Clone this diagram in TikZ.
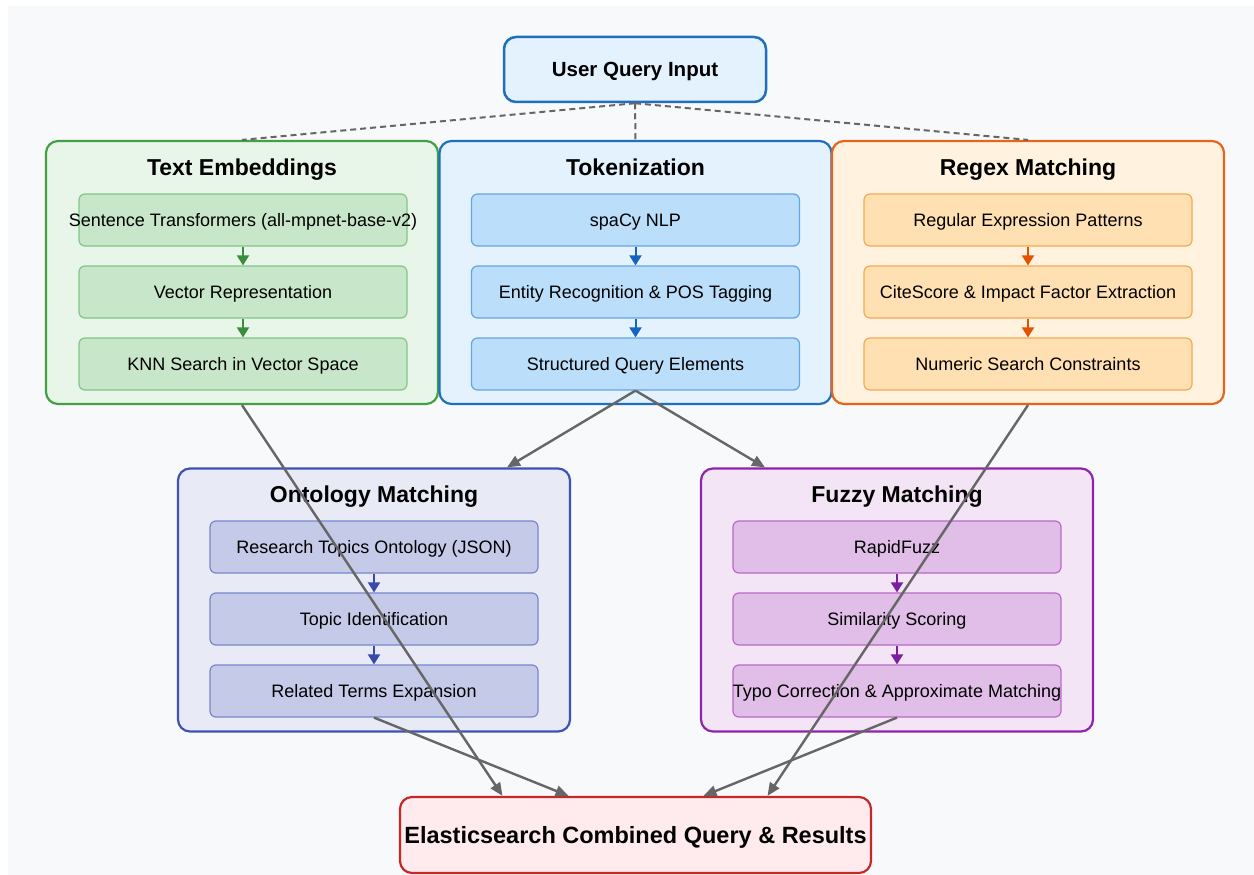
\documentclass[tikz,border=0pt]{standalone}
\usepackage{fontspec}
\setmainfont{Liberation Sans}
\usetikzlibrary{arrows.meta,calc}
\definecolor{bg}{HTML}{F8F9FA}
\definecolor{teB}{HTML}{43A047}\definecolor{teF}{HTML}{E8F5E9}\definecolor{teIF}{HTML}{C8E6C9}\definecolor{teIB}{HTML}{81C784}\definecolor{teA}{HTML}{388E3C}
\definecolor{tkB}{HTML}{1E6FC0}\definecolor{tkF}{HTML}{E3F2FD}\definecolor{tkIF}{HTML}{BBDEFB}\definecolor{tkIB}{HTML}{64A5E6}\definecolor{tkA}{HTML}{1565C0}
\definecolor{rxB}{HTML}{E8641B}\definecolor{rxF}{HTML}{FFF3E0}\definecolor{rxIF}{HTML}{FFE0B2}\definecolor{rxIB}{HTML}{F5A850}\definecolor{rxA}{HTML}{E65100}
\definecolor{onB}{HTML}{3F51B5}\definecolor{onF}{HTML}{E8EAF6}\definecolor{onIF}{HTML}{C5CAE9}\definecolor{onIB}{HTML}{7986CB}\definecolor{onA}{HTML}{3949AB}
\definecolor{fzB}{HTML}{8E24AA}\definecolor{fzF}{HTML}{F3E5F5}\definecolor{fzIF}{HTML}{E1BEE7}\definecolor{fzIB}{HTML}{BA68C8}\definecolor{fzA}{HTML}{7B1FA2}
\definecolor{esB}{HTML}{C62828}\definecolor{esF}{HTML}{FFEBEE}
\definecolor{conn}{HTML}{666666}
\newcommand{\zb}[1]{\makebox[0pt]{#1}}
\begin{document}
\begin{tikzpicture}[x=1pt,y=-1pt,
  outerbox/.style={rounded corners=12pt, line width=2.2pt, minimum width=392pt, minimum height=263pt, inner sep=0pt},
  titletext/.style={font=\bfseries\fontsize{23}{26}\selectfont, inner sep=0pt, text height=16.5pt, text depth=0pt},
  innerbox/.style={rounded corners=6pt, line width=1.2pt, minimum width=328pt, minimum height=52pt, inner sep=0pt, font=\fontsize{18}{20}\selectfont, text height=13pt, text depth=0pt},
  innerarrow/.style={line width=2pt, -{Triangle[length=10pt,width=12pt]}},
  flow/.style={draw=conn, line width=2.4pt, -{Triangle[length=13pt,width=11pt]}},
  dash line/.style={draw=conn, line width=2pt, dash pattern=on 6pt off 4pt}
]
\useasboundingbox (0,0) rectangle (1254,875);
\fill[bg] (8,6) rectangle (1254,875);

% top node
\node[draw=tkB, fill=tkF, rounded corners=12pt, line width=2.5pt, minimum width=262pt, minimum height=65pt, inner sep=0pt, text height=14.8pt, text depth=0pt, font=\bfseries\fontsize{20.5}{24}\selectfont] (uq) at (635,69.5) {User Query Input};

% Text Embeddings
\node[outerbox, draw=teB, fill=teF] (te) at (242,272.5) {};
\node[titletext] (tet) at (242,167) {Text Embeddings};
\node[innerbox, draw=teIB, fill=teIF] (te1) at (243,220) {\zb{Sentence Transformers (all-mpnet-base-v2)}};
\node[innerbox, draw=teIB, fill=teIF] (te2) at (243,292) {\zb{Vector Representation}};
\node[innerbox, draw=teIB, fill=teIF] (te3) at (243,364) {\zb{KNN Search in Vector Space}};
\draw[innerarrow, teA] (te1) -- (te2);
\draw[innerarrow, teA] (te2) -- (te3);

% Tokenization
\node[outerbox, draw=tkB, fill=tkF] (tk) at (635.5,272.5) {};
\node[titletext] (tkt) at (635.5,167) {Tokenization};
\node[innerbox, draw=tkIB, fill=tkIF] (tk1) at (635.5,220) {\zb{spaCy NLP}};
\node[innerbox, draw=tkIB, fill=tkIF] (tk2) at (635.5,292) {\zb{Entity Recognition \& POS Tagging}};
\node[innerbox, draw=tkIB, fill=tkIF] (tk3) at (635.5,364) {\zb{Structured Query Elements}};
\draw[innerarrow, tkA] (tk1) -- (tk2);
\draw[innerarrow, tkA] (tk2) -- (tk3);

% Regex
\node[outerbox, draw=rxB, fill=rxF] (rx) at (1028,272.5) {};
\node[titletext] (rxt) at (1028,167) {Regex Matching};
\node[innerbox, draw=rxIB, fill=rxIF] (rx1) at (1028,220) {\zb{Regular Expression Patterns}};
\node[innerbox, draw=rxIB, fill=rxIF] (rx2) at (1028,292) {\zb{CiteScore \& Impact Factor Extraction}};
\node[innerbox, draw=rxIB, fill=rxIF] (rx3) at (1028,364) {\zb{Numeric Search Constraints}};
\draw[innerarrow, rxA] (rx1) -- (rx2);
\draw[innerarrow, rxA] (rx2) -- (rx3);

% Ontology
\node[outerbox, draw=onB, fill=onF] (on) at (374,600) {};
\node[titletext] (ont) at (374,494) {Ontology Matching};
\node[innerbox, draw=onIB, fill=onIF] (on1) at (374,547) {\zb{Research Topics Ontology (JSON)}};
\node[innerbox, draw=onIB, fill=onIF] (on2) at (374,619) {\zb{Topic Identification}};
\node[innerbox, draw=onIB, fill=onIF] (on3) at (374,691) {\zb{Related Terms Expansion}};
\draw[innerarrow, onA] (on1) -- (on2);
\draw[innerarrow, onA] (on2) -- (on3);

% Fuzzy
\node[outerbox, draw=fzB, fill=fzF] (fz) at (897,600) {};
\node[titletext] (fzt) at (897,494) {Fuzzy Matching};
\node[innerbox, draw=fzIB, fill=fzIF] (fz1) at (897,547) {\zb{RapidFuzz}};
\node[innerbox, draw=fzIB, fill=fzIF] (fz2) at (897,619) {\zb{Similarity Scoring}};
\node[innerbox, draw=fzIB, fill=fzIF] (fz3) at (897,691) {\zb{Typo Correction \& Approximate Matching}};
\draw[innerarrow, fzA] (fz1) -- (fz2);
\draw[innerarrow, fzA] (fz2) -- (fz3);

% Elasticsearch
\node[draw=esB, fill=esF, rounded corners=12pt, line width=2.2pt, minimum width=471pt, minimum height=76pt, inner sep=0pt, text height=17pt, text depth=0pt, font=\bfseries\fontsize{23.5}{27}\selectfont] (es) at (635.5,835) {Elasticsearch Combined Query \& Results};

% dashed connectors
\draw[dash line] (uq.south) -- (te.north);
\draw[dash line] (uq.south) -- (tk.north);
\draw[dash line] (uq.south) -- (rx.north);

% flows
\draw[flow] (tk3.south) -- ($(on.north)+(133,0)$);
\draw[flow] (tk3.south) -- ($(fz.north)+(-132,0)$);
\draw[flow] (te.south) -- ($(es.north)+(-133,0)$);
\draw[flow] (rx.south) -- ($(es.north)+(132,0)$);
\draw[flow] (on3.south) -- ($(es.north)+(-67,0)$);
\draw[flow] (fz3.south) -- ($(es.north)+(68,0)$);
\end{tikzpicture}
\end{document}
